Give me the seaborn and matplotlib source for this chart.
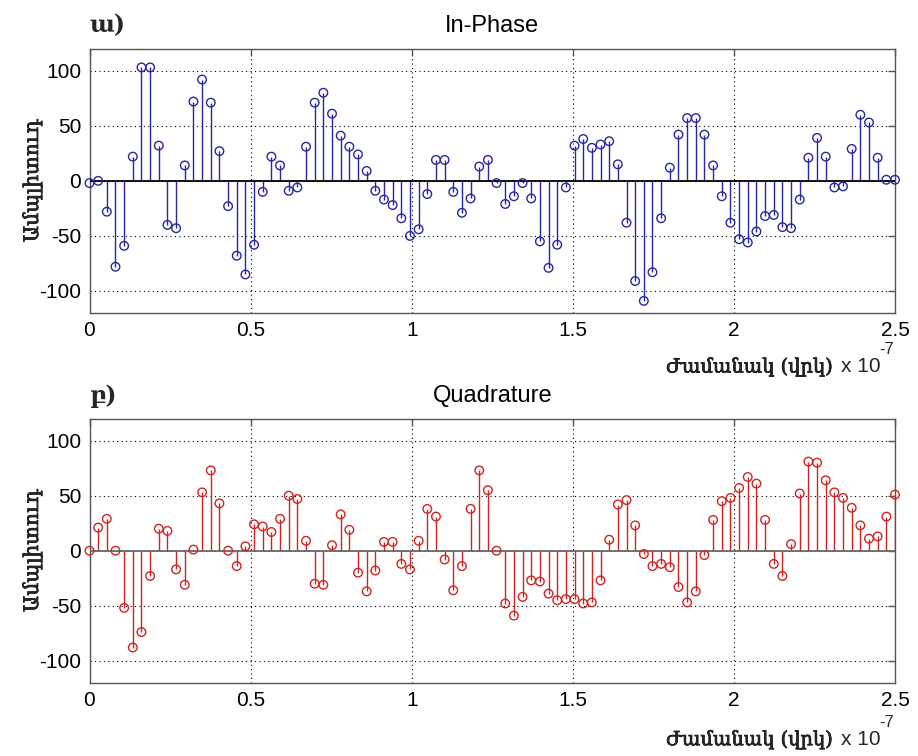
import numpy as np
import pandas as pd
import matplotlib
matplotlib.use("Agg")
import matplotlib.pyplot as plt
import matplotlib.patheffects as pe
from matplotlib.ticker import FuncFormatter
import seaborn as sns

# Sampled baseband signal, 94 samples spanning 0 .. 2.5e-7 s
n_samples = 94
t_end = 2.5e-7

in_phase = [
    -2, 0, -28, -78, -59, 22, 103, 103, 32, -40,
    -43, 14, 72, 92, 71, 27, -23, -68, -85, -58,
    -10, 22, 14, -9, -6, 31, 71, 80, 61, 41,
    31, 24, 9, -9, -17, -22, -34, -50, -44, -12,
    19, 19, -10, -29, -16, 13, 19, -2, -21, -14,
    -2, -16, -55, -79, -58, -6, 32, 38, 30, 33,
    36, 15, -38, -91, -109, -83, -34, 12, 42, 57,
    57, 42, 14, -14, -38, -53, -56, -46, -32, -31,
    -42, -43, -17, 21, 39, 22, -6, -5, 29, 60,
    53, 21, 1, 1,
]

quadrature = [
    0, 21, 29, 0, -52, -88, -74, -23, 20, 18,
    -17, -31, 1, 53, 73, 43, 0, -14, 4, 24,
    22, 17, 29, 50, 47, 9, -30, -31, 5, 33,
    19, -20, -37, -18, 8, 8, -12, -17, 9, 38,
    31, -8, -36, -14, 38, 73, 55, 0, -48, -59,
    -42, -27, -28, -39, -45, -44, -44, -48, -47, -27,
    10, 42, 46, 23, -3, -14, -12, -15, -33, -47,
    -37, -4, 28, 45, 48, 57, 67, 61, 28, -12,
    -23, 6, 52, 81, 80, 64, 53, 48, 39, 23,
    11, 13, 31, 51,
]

panel_titles = ["In-Phase", "Quadrature"]
panel_tags = ["ա)", "բ)"]
x_label = "Ժամանակ (վրկ)"
y_label = "Ամպլիտուդ"
x_ticks = [0, 0.5, 1, 1.5, 2, 2.5]
y_ticks = [-100, -50, 0, 50, 100]

t = np.arange(n_samples) * (t_end / (n_samples - 1))
frames = [
    pd.DataFrame({"t": t, "amp": in_phase}),
    pd.DataFrame({"t": t, "amp": quadrature}),
]
colors = ["#2727a2", "#d02424"]
baseline_colors = ["#000000", "#6a6a6a"]

sns.set_theme(style="white")
plt.rcParams["font.family"] = ["Liberation Sans", "DejaVu Sans"]
plt.rcParams["axes.unicode_minus"] = False

fig = plt.figure(figsize=(9.18, 7.56), dpi=100)
W, H = 918, 756
ax_boxes = [
    (89.5, 48.7, 895.0, 313.0),
    (89.5, 418.7, 895.0, 682.7),
]

armenian = ["DejaVu Serif", "DejaVu Sans"]
thick = [pe.withStroke(linewidth=0.5, foreground="black")]

for i, (df, box) in enumerate(zip(frames, ax_boxes)):
    x0, y0, x1, y1 = box
    ax = fig.add_axes([x0 / W, 1 - y1 / H, (x1 - x0) / W, (y1 - y0) / H])

    # stems from the baseline to each sample
    ax.vlines(df["t"], 0, df["amp"], color=colors[i], lw=1.0, zorder=2)
    ax.axhline(0, color=baseline_colors[i], lw=1.3, zorder=3)
    sns.scatterplot(data=df, x="t", y="amp", ax=ax, marker="o", s=38,
                    facecolor="none", edgecolor=colors[i], linewidth=1.0,
                    zorder=4, legend=False, clip_on=False)

    ax.set_xlim(0, t_end)
    ax.set_ylim(-120, 120)
    ax.set_xticks([v * 1e-7 for v in x_ticks])
    ax.xaxis.set_major_formatter(FuncFormatter(lambda v, p: f"{v / 1e-7:g}"))
    ax.set_yticks(y_ticks)
    ax.set_xlabel("")
    ax.set_ylabel("")

    ax.grid(True, color="black", lw=0.8, linestyle=(0, (1, 3)))
    for s in ax.spines.values():
        s.set_color("#555555")
        s.set_linewidth(1.0)
        s.set_visible(True)
    ax.tick_params(direction="in", length=5, width=1.0, color="#555555",
                   top=True, right=True, labelsize=15, pad=6,
                   labelcolor="black")

    ax.set_title(panel_titles[i], fontsize=17, pad=12, color="black")
    ax.annotate(panel_tags[i], xy=(0, 1), xycoords="axes fraction",
                xytext=(0, 23), textcoords="offset pixels",
                ha="left", va="center", fontsize=17, fontweight="bold",
                family=armenian)

    # axis label followed by the exponent of the time axis
    off = -54 if i == 0 else -57
    ax.annotate("-7", xy=(1, 0), xycoords="axes fraction",
                xytext=(-1, off + 17), textcoords="offset pixels",
                ha="right", va="center", fontsize=12)
    ax.annotate("x 10", xy=(1, 0), xycoords="axes fraction",
                xytext=(-14, off), textcoords="offset pixels",
                ha="right", va="center", fontsize=15)
    ax.annotate(x_label, xy=(1, 0), xycoords="axes fraction",
                xytext=(-62, off), textcoords="offset pixels",
                ha="right", va="center", fontsize=14,
                family=armenian, path_effects=thick)
    ax.annotate(y_label, xy=(0, 0.5), xycoords="axes fraction",
                xytext=(-57, 0), textcoords="offset pixels",
                ha="center", va="center", rotation=90, fontsize=14.5,
                family=armenian, path_effects=thick)

fig.savefig("out.png", dpi=100)
